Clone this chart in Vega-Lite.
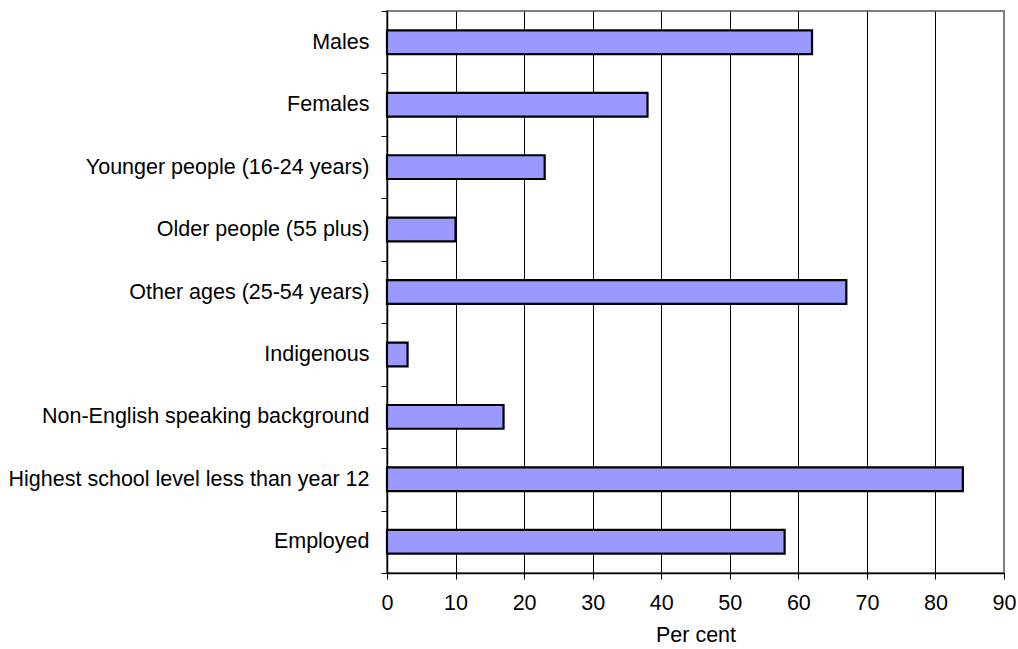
{
  "$schema": "https://vega.github.io/schema/vega-lite/v6.json",
  "width": 617,
  "height": 562,
  "autosize": {"type": "none"},
  "padding": {"left": 387, "top": 11, "right": 14, "bottom": 76},
  "background": "white",
  "config": {
    "font": "Liberation Sans",
    "view": {"stroke": "#808080", "strokeWidth": 2}
  },
  "data": {
    "values": [
      {"group": "Males", "pct": 62},
      {"group": "Females", "pct": 38},
      {"group": "Younger people (16-24 years)", "pct": 23},
      {"group": "Older people (55 plus)", "pct": 10},
      {"group": "Other ages (25-54 years)", "pct": 67},
      {"group": "Indigenous", "pct": 3},
      {"group": "Non-English speaking background", "pct": 17},
      {"group": "Highest school level less than year 12", "pct": 84},
      {"group": "Employed", "pct": 58}
    ]
  },
  "mark": {
    "type": "bar",
    "fill": "#9999FF",
    "stroke": "black",
    "strokeWidth": 2.2,
    "height": {"band": 0.38}
  },
  "encoding": {
    "y": {
      "field": "group",
      "type": "nominal",
      "sort": null,
      "scale": {"paddingInner": 0, "paddingOuter": 0},
      "axis": {
        "title": null,
        "grid": false,
        "tickBand": "extent",
        "tickSize": 6,
        "tickColor": "black",
        "tickWidth": 1,
        "domainColor": "black",
        "domainWidth": 1.5,
        "labelFont": "Liberation Sans",
        "labelFontSize": 21.5,
        "labelColor": "black",
        "labelPadding": 12,
        "labelLimit": 500
      }
    },
    "x": {
      "field": "pct",
      "type": "quantitative",
      "scale": {"domain": [0, 90], "nice": false},
      "axis": {
        "values": [0, 10, 20, 30, 40, 50, 60, 70, 80, 90],
        "title": "Per cent",
        "titleFont": "Liberation Sans",
        "titleFontSize": 21.5,
        "titleFontWeight": "normal",
        "titleColor": "black",
        "titlePadding": 11,
        "grid": true,
        "gridColor": {"condition": {"test": "datum.value === 90", "value": "#808080"}, "value": "black"},
        "gridWidth": 1,
        "tickSize": 6,
        "tickColor": "black",
        "domainColor": "black",
        "domainWidth": 1.5,
        "labelFont": "Liberation Sans",
        "labelFontSize": 21.5,
        "labelColor": "black",
        "labelPadding": 13,
        "labelFlush": false
      }
    }
  }
}
